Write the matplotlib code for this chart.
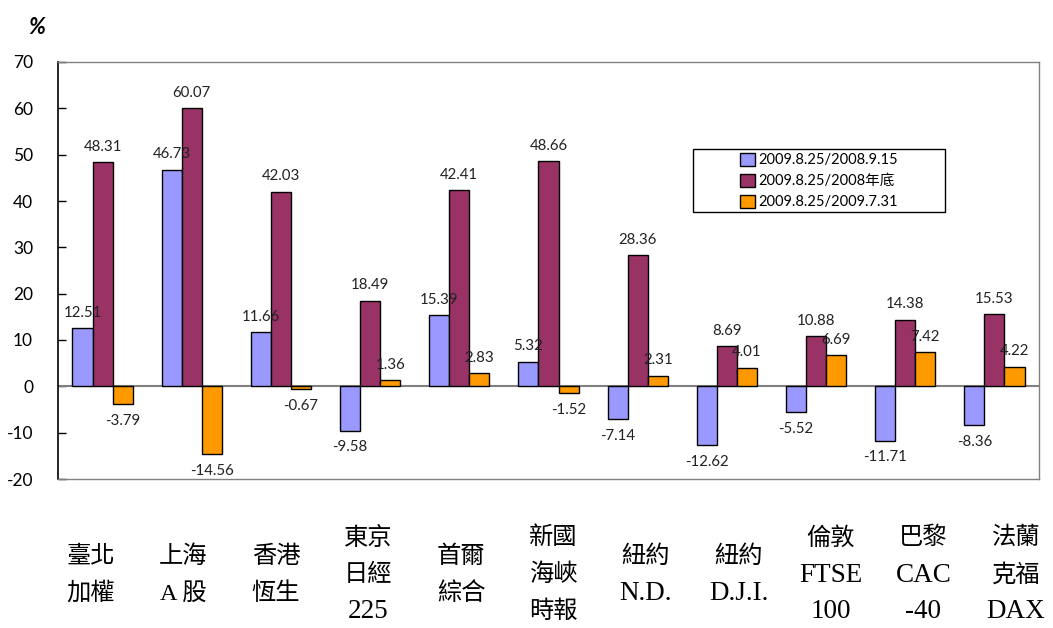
import numpy as np
import matplotlib
matplotlib.use("Agg")
import matplotlib.pyplot as plt
from matplotlib.patches import Rectangle

# --- data ---
markets = ["臺北\n加權", "上海\nA 股", "香港\n恆生", "東京\n日經\n225", "首爾\n綜合",
           "新國\n海峽\n時報", "紐約\nN.D.", "紐約\nD.J.I.", "倫敦\nFTSE\n100",
           "巴黎\nCAC\n-40", "法蘭\n克福\nDAX"]
series_names = ["2009.8.25/2008.9.15", "2009.8.25/2008年底", "2009.8.25/2009.7.31"]
vs_2008_0915 = [12.51, 46.73, 11.66, -9.58, 15.39, 5.32, -7.14, -12.62, -5.52, -11.71, -8.36]
vs_2008_end = [48.31, 60.07, 42.03, 18.49, 42.41, 48.66, 28.36, 8.69, 10.88, 14.38, 15.53]
vs_2009_0731 = [-3.79, -14.56, -0.67, 1.36, 2.83, -1.52, 2.31, 4.01, 6.69, 7.42, 4.22]
yticks = [-20, -10, 0, 10, 20, 30, 40, 50, 60, 70]

colors = ["#9999FF", "#993366", "#FF9900"]
NUM_FONT = ["Lato", "Noto Sans CJK TC"]
LBL_FONT = ["Liberation Serif", "Noto Sans CJK TC"]

W, H = 1053, 628
fig = plt.figure(figsize=(W / 100, H / 100), dpi=100)
ax = fig.add_axes([58 / W, 1 - 479 / H, (1039 - 58) / W, (479 - 62) / H])

x = np.arange(len(markets))
bw = 0.225
bars = []
for k, (vals, c, name) in enumerate(zip([vs_2008_0915, vs_2008_end, vs_2009_0731], colors, series_names)):
    b = ax.bar(x + (k - 1) * bw, vals, bw, color=c, edgecolor="black", linewidth=1,
               label=name, zorder=3)
    bars.append(b)
    for xi, v in zip(x + (k - 1) * bw, vals):
        if v >= 0:
            ax.annotate(f"{v:.2f}", (xi, v), xytext=(0, 6), textcoords="offset points",
                        ha="center", va="bottom", fontsize=10.8, family=NUM_FONT,
                        color="#222222", zorder=4)
        else:
            ax.annotate(f"{v:.2f}", (xi, v), xytext=(0, -7), textcoords="offset points",
                        ha="center", va="top", fontsize=10.8, family=NUM_FONT,
                        color="#222222", zorder=4)

ax.axhline(0, color="#808080", linewidth=1.5, zorder=2)
ax.set_xlim(-0.5, len(markets) - 0.5)
ax.set_ylim(-20, 70)
ax.set_yticks(yticks)
ax.set_yticklabels([str(t) for t in yticks], family=NUM_FONT, fontsize=12.5)
ax.tick_params(axis="y", direction="in", length=6, width=1, pad=18, color="black")
ax.set_xticks([])
for s in ["top", "right", "bottom"]:
    ax.spines[s].set_color("#808080")
    ax.spines[s].set_linewidth(1)
ax.spines["left"].set_color("black")
ax.spines["left"].set_linewidth(1.2)

# category labels under the plot, one text per line
for i, lab in enumerate(markets):
    lines = lab.split("\n")
    n = len(lines)
    for j, line in enumerate(lines):
        yc = 575 + (j - (n - 1) / 2) * 37
        size = 19.5 if line.isascii() else 17.5
        fig.text((91 + i * 92.5) / W, 1 - yc / H, line, ha="center", va="center",
                 fontsize=size, family=LBL_FONT)

# percent mark
fig.text(37 / W, 1 - 28 / H, "%", ha="center", va="center", fontsize=16,
         fontweight="bold", style="italic", family=NUM_FONT)

# legend box
fig.patches.append(Rectangle((693 / W, 1 - 212 / H), (945 - 693) / W, (212 - 149) / H,
                             transform=fig.transFigure, facecolor="white",
                             edgecolor="black", linewidth=1, zorder=5))
leg = fig.legend(handles=bars, labels=series_names, loc="center",
                 bbox_to_anchor=((693 + 945) / 2 / W, 1 - 181 / H), frameon=False,
                 prop={"family": NUM_FONT, "size": 10.5}, handlelength=1.0,
                 handleheight=1.0, handletextpad=0.25, labelspacing=0.45)
leg.set_zorder(6)

fig.savefig("out.png", dpi=100)
